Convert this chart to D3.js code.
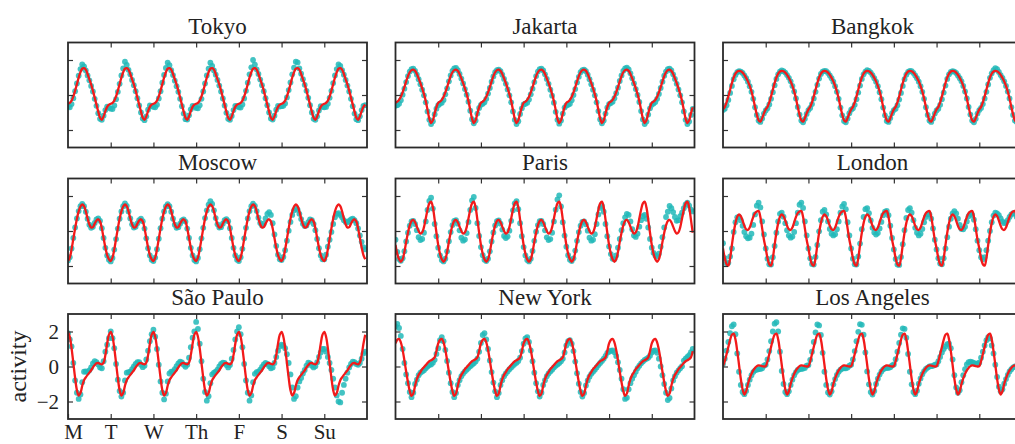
<!DOCTYPE html>
<html>
<head>
<meta charset="utf-8">
<script src="https://cdn.jsdelivr.net/npm/d3@7"></script>
<style>
  body { margin: 0; background: #fff; }
  svg { display: block; }
</style>
</head>
<body>
<svg id="chart" width="1015" height="444"></svg>
<script>
// ---- data -------------------------------------------------------------
const cities = ["Tokyo", "Jakarta", "Bangkok", "Moscow", "Paris", "London",
                "São Paulo", "New York", "Los Angeles"];
const dayLabels = ["M", "T", "W", "Th", "F", "S", "Su"];
const yTickValues = [-2, 0, 2];

// fitted daily activity model, hours 0..23 (same curve every day of the week)
const tokyoFit = [-0.50,-0.45,-0.32,-0.08,0.25,0.62,1.00,1.30,1.50,1.53,1.45,1.20,0.90,0.60,0.25,-0.15,-0.55,-0.95,-1.30,-1.42,-1.22,-0.92,-0.68,-0.55];
const jakartaFit = [-0.45,-0.38,-0.28,-0.10,0.15,0.45,0.78,1.08,1.30,1.42,1.45,1.38,1.20,0.95,0.68,0.38,0.05,-0.35,-0.85,-1.35,-1.60,-1.45,-1.05,-0.70];
const bangkokFit = [-0.82,-0.68,-0.42,-0.08,0.30,0.68,1.00,1.22,1.34,1.38,1.36,1.28,1.15,0.98,0.78,0.52,0.20,-0.20,-0.68,-1.12,-1.45,-1.52,-1.32,-1.05];
const moscowFit = [-1.72,-1.52,-1.05,-0.45,0.15,0.70,1.12,1.40,1.52,1.42,1.12,0.72,0.38,0.20,0.22,0.42,0.60,0.67,0.55,0.15,-0.40,-0.95,-1.38,-1.62];
const parisFit = [-0.80,-1.30,-1.62,-1.76,-1.62,-1.20,-0.62,-0.10,0.32,0.57,0.63,0.50,0.25,0.00,-0.15,-0.08,0.22,0.72,1.22,1.58,1.68,1.35,0.65,-0.10];
const londonFit = [-1.00,-1.55,-1.90,-1.98,-1.55,-0.80,-0.10,0.45,0.82,0.95,0.85,0.60,0.30,0.10,0.06,0.20,0.50,0.80,1.02,1.12,1.14,0.80,0.15,-0.50];
const saoPauloFit = [1.98,1.70,1.05,0.20,-0.65,-1.35,-1.66,-1.52,-1.10,-0.78,-0.62,-0.48,-0.35,-0.22,-0.05,0.08,0.18,0.20,0.15,0.12,0.22,0.65,1.30,1.82];
const newYorkFit = [1.32,1.52,1.58,1.38,0.95,0.35,-0.30,-0.90,-1.40,-1.68,-1.55,-1.10,-0.72,-0.48,-0.32,-0.15,-0.04,0.08,0.20,0.30,0.36,0.42,0.52,0.88];
const losAngelesFit = [0.02,0.30,0.70,1.12,1.52,1.82,1.88,1.55,0.88,0.10,-0.70,-1.30,-1.60,-1.42,-1.00,-0.68,-0.42,-0.22,-0.08,0.02,0.06,0.05,0.02,0.00];

// measured hourly activity, one row per day (Mon..Sun), 24 hours each
const tokyoDots = [
  [-0.66,-0.70,-0.52,-0.18,0.22,0.66,1.10,1.48,1.75,1.64,1.40,1.12,0.84,0.52,0.20,-0.22,-0.62,-1.04,-1.36,-1.42,-1.18,-0.86,-0.66,-0.72],
  [-0.78,-0.80,-0.60,-0.24,0.18,0.64,1.12,1.52,1.90,1.72,1.44,1.18,0.86,0.56,0.22,-0.18,-0.60,-1.00,-1.34,-1.44,-1.22,-0.84,-0.60,-0.62],
  [-0.68,-0.70,-0.55,-0.20,0.22,0.70,1.15,1.55,1.85,1.70,1.42,1.14,0.82,0.50,0.18,-0.22,-0.64,-1.06,-1.38,-1.40,-1.16,-0.82,-0.62,-0.66],
  [-0.74,-0.76,-0.58,-0.22,0.20,0.66,1.12,1.50,1.85,1.66,1.40,1.16,0.86,0.54,0.20,-0.20,-0.60,-1.02,-1.36,-1.42,-1.20,-0.86,-0.62,-0.64],
  [-0.70,-0.72,-0.54,-0.20,0.24,0.70,1.18,1.58,2.00,1.74,1.46,1.20,0.88,0.56,0.22,-0.18,-0.58,-1.00,-1.34,-1.40,-1.18,-0.84,-0.62,-0.66],
  [-0.64,-0.62,-0.48,-0.14,0.28,0.72,1.18,1.56,1.90,1.86,1.52,1.22,0.90,0.58,0.24,-0.16,-0.58,-1.00,-1.36,-1.42,-1.22,-0.88,-0.64,-0.68],
  [-0.70,-0.68,-0.50,-0.16,0.24,0.68,1.12,1.48,1.75,1.66,1.42,1.16,0.86,0.54,0.20,-0.22,-0.64,-1.06,-1.38,-1.44,-1.22,-0.86,-0.62,-0.58]
];
const jakartaDots = [
  [-0.62,-0.58,-0.50,-0.30,0.02,0.36,0.74,1.08,1.34,1.48,1.50,1.38,1.16,0.90,0.62,0.30,-0.02,-0.42,-0.94,-1.42,-1.66,-1.50,-1.10,-0.78],
  [-0.58,-0.50,-0.44,-0.28,0.04,0.38,0.78,1.12,1.38,1.52,1.55,1.42,1.20,0.94,0.66,0.34,0.02,-0.38,-0.90,-1.38,-1.62,-1.46,-1.06,-0.74],
  [-0.56,-0.50,-0.42,-0.22,0.08,0.40,0.76,1.06,1.30,1.42,1.45,1.36,1.16,0.92,0.64,0.32,-0.02,-0.42,-0.94,-1.42,-1.66,-1.50,-1.08,-0.76],
  [-0.54,-0.50,-0.44,-0.26,0.04,0.36,0.74,1.08,1.34,1.48,1.50,1.40,1.18,0.92,0.64,0.30,-0.04,-0.44,-0.96,-1.42,-1.64,-1.46,-1.06,-0.72],
  [-0.60,-0.56,-0.50,-0.30,0.00,0.34,0.72,1.04,1.30,1.42,1.45,1.36,1.16,0.90,0.62,0.30,-0.02,-0.42,-0.92,-1.40,-1.62,-1.46,-1.06,-0.72],
  [-0.52,-0.46,-0.38,-0.18,0.10,0.42,0.80,1.12,1.38,1.52,1.56,1.46,1.24,0.96,0.66,0.34,0.00,-0.40,-0.92,-1.40,-1.66,-1.52,-1.12,-0.76],
  [-0.56,-0.48,-0.40,-0.22,0.06,0.40,0.76,1.10,1.34,1.48,1.50,1.40,1.18,0.92,0.64,0.32,-0.02,-0.42,-0.94,-1.42,-1.66,-1.52,-1.14,-0.80]
];
const bangkokDots = [
  [-0.85,-0.78,-0.58,-0.28,0.12,0.52,0.90,1.15,1.30,1.36,1.34,1.26,1.12,0.96,0.76,0.50,0.18,-0.22,-0.70,-1.14,-1.46,-1.54,-1.34,-1.06],
  [-0.88,-0.76,-0.54,-0.22,0.16,0.56,0.92,1.18,1.34,1.40,1.36,1.28,1.14,0.98,0.78,0.52,0.20,-0.20,-0.68,-1.12,-1.46,-1.56,-1.36,-1.08],
  [-0.86,-0.74,-0.52,-0.20,0.18,0.58,0.94,1.20,1.34,1.38,1.36,1.26,1.12,0.96,0.76,0.50,0.18,-0.22,-0.72,-1.16,-1.48,-1.56,-1.34,-1.04],
  [-0.84,-0.76,-0.56,-0.24,0.14,0.54,0.92,1.18,1.34,1.42,1.38,1.28,1.14,0.96,0.76,0.50,0.16,-0.24,-0.72,-1.16,-1.48,-1.54,-1.32,-1.04],
  [-0.86,-0.78,-0.58,-0.26,0.12,0.52,0.90,1.16,1.32,1.38,1.36,1.26,1.12,0.96,0.76,0.50,0.18,-0.22,-0.70,-1.14,-1.46,-1.54,-1.34,-1.06],
  [-0.88,-0.78,-0.56,-0.24,0.14,0.54,0.92,1.18,1.32,1.36,1.34,1.26,1.12,0.96,0.78,0.52,0.20,-0.20,-0.68,-1.12,-1.46,-1.56,-1.36,-1.06],
  [-0.86,-0.74,-0.52,-0.20,0.18,0.60,0.98,1.24,1.42,1.54,1.48,1.32,1.14,0.98,0.78,0.52,0.20,-0.20,-0.70,-1.14,-1.46,-1.54,-1.32,-1.04]
];
const moscowDots = [
  [-1.68,-1.50,-1.00,-0.40,0.20,0.72,1.14,1.42,1.55,1.42,1.10,0.70,0.36,0.18,0.24,0.46,0.66,0.72,0.58,0.16,-0.40,-0.96,-1.40,-1.64],
  [-1.74,-1.54,-1.06,-0.46,0.14,0.70,1.12,1.42,1.58,1.44,1.12,0.72,0.38,0.20,0.24,0.44,0.62,0.70,0.56,0.14,-0.42,-0.98,-1.40,-1.64],
  [-1.72,-1.52,-1.04,-0.44,0.16,0.70,1.12,1.40,1.54,1.42,1.10,0.70,0.36,0.18,0.22,0.42,0.60,0.66,0.54,0.14,-0.40,-0.96,-1.40,-1.66],
  [-1.74,-1.54,-1.04,-0.42,0.18,0.74,1.18,1.50,1.70,1.55,1.18,0.74,0.38,0.20,0.22,0.42,0.62,0.68,0.56,0.16,-0.40,-0.96,-1.40,-1.64],
  [-1.72,-1.50,-1.02,-0.42,0.18,0.72,1.14,1.42,1.56,1.44,1.14,0.76,0.46,0.32,0.42,0.72,0.98,1.08,0.92,0.45,-0.20,-0.85,-1.35,-1.62],
  [-1.66,-1.48,-1.10,-0.55,0.02,0.52,0.92,1.18,1.30,1.22,0.98,0.68,0.42,0.28,0.32,0.50,0.66,0.62,0.40,0.05,-0.45,-0.98,-1.40,-1.62],
  [-1.62,-1.35,-0.90,-0.50,-0.05,0.40,0.78,0.98,1.02,0.92,0.78,0.62,0.52,0.50,0.58,0.66,0.70,0.62,0.45,0.15,-0.25,-0.62,-0.92,-1.05]
];
const parisDots = [
  [-0.50,-1.20,-1.60,-1.70,-1.55,-1.15,-0.60,-0.10,0.30,0.55,0.58,0.40,0.05,-0.35,-0.52,-0.45,-0.10,0.55,1.20,1.72,1.90,1.28,0.40,-0.30],
  [-0.95,-1.40,-1.66,-1.74,-1.58,-1.16,-0.58,-0.06,0.34,0.58,0.62,0.42,0.04,-0.38,-0.55,-0.48,-0.12,0.52,1.20,1.75,1.95,1.32,0.45,-0.28],
  [-0.92,-1.38,-1.64,-1.72,-1.58,-1.16,-0.60,-0.08,0.32,0.56,0.60,0.42,0.08,-0.28,-0.40,-0.32,0.02,0.58,1.18,1.58,1.70,1.25,0.45,-0.30],
  [-0.92,-1.40,-1.66,-1.74,-1.58,-1.14,-0.56,-0.04,0.34,0.56,0.58,0.40,0.04,-0.36,-0.52,-0.46,-0.10,0.55,1.22,1.80,2.04,1.40,0.50,-0.26],
  [-0.90,-1.38,-1.64,-1.72,-1.56,-1.12,-0.56,-0.06,0.30,0.52,0.55,0.38,0.02,-0.38,-0.55,-0.50,-0.18,0.40,0.95,1.32,1.43,1.10,0.40,-0.30],
  [-0.88,-1.32,-1.58,-1.62,-1.40,-0.95,-0.45,0.05,0.45,0.78,0.98,0.92,0.55,0.10,-0.25,-0.34,-0.15,0.25,0.62,0.85,0.92,0.70,0.20,-0.45],
  [-0.95,-1.25,-1.40,-1.45,-1.30,-0.90,-0.35,0.20,0.80,1.10,1.43,1.30,1.08,0.80,0.58,0.62,0.85,1.05,1.30,1.52,1.62,1.45,1.22,1.12]
];
const londonDots = [
  [-0.70,-1.55,-1.85,-1.82,-1.45,-1.00,-0.05,0.50,0.78,0.80,0.62,0.30,-0.05,-0.30,-0.42,-0.38,-0.15,0.35,0.95,1.45,1.62,1.35,0.55,-0.20],
  [-1.00,-1.58,-1.90,-1.92,-1.50,-0.85,-0.10,0.55,0.98,1.05,0.82,0.45,0.05,-0.25,-0.38,-0.32,-0.05,0.45,1.05,1.50,1.62,1.32,0.55,-0.25],
  [-1.00,-1.56,-1.88,-1.92,-1.48,-0.80,-0.02,0.62,1.10,1.20,0.95,0.55,0.12,-0.15,-0.25,-0.18,0.10,0.55,1.05,1.40,1.55,1.25,0.50,-0.25],
  [-1.00,-1.58,-1.90,-1.92,-1.45,-0.72,0.10,0.80,1.25,1.30,1.02,0.60,0.18,-0.08,-0.20,-0.12,0.15,0.52,0.90,1.10,1.15,0.90,0.30,-0.40],
  [-1.05,-1.60,-1.92,-1.94,-1.48,-0.75,0.05,0.75,1.20,1.30,1.05,0.62,0.18,-0.10,-0.25,-0.15,0.12,0.50,0.80,0.95,0.95,0.70,0.15,-0.50],
  [-1.05,-1.55,-1.85,-1.90,-1.55,-1.00,-0.35,0.25,0.70,1.00,1.14,1.00,0.70,0.35,0.12,0.10,0.25,0.55,0.85,0.98,0.92,0.65,0.10,-0.55],
  [-1.10,-1.50,-1.62,-1.50,-1.10,-0.55,0.00,0.50,0.88,1.05,1.00,0.90,0.72,0.55,0.45,0.48,0.62,0.80,0.95,1.02,1.00,0.80,0.40,-0.10]
];
const saoPauloDots = [
  [1.90,1.55,1.15,0.20,-0.80,-1.50,-1.85,-1.60,-0.90,-0.30,-0.28,-0.32,-0.22,-0.05,0.18,0.30,0.25,0.12,-0.05,-0.10,0.30,0.85,1.25,1.62],
  [2.00,1.62,1.05,0.15,-0.75,-1.40,-1.72,-1.50,-0.80,-0.35,-0.32,-0.30,-0.15,0.00,0.15,0.25,0.25,0.10,-0.04,0.05,0.40,0.90,1.45,1.85],
  [2.10,1.70,1.00,0.10,-0.85,-1.50,-1.88,-1.55,-0.85,-0.40,-0.30,-0.28,-0.15,0.02,0.18,0.28,0.24,0.10,-0.02,0.10,0.50,1.10,1.65,2.00],
  [2.55,2.15,1.30,0.30,-0.70,-1.45,-1.95,-1.70,-0.95,-0.45,-0.35,-0.30,-0.18,0.00,0.15,0.22,0.20,0.08,-0.05,0.08,0.45,0.95,1.55,2.00],
  [2.25,1.85,1.10,0.15,-0.80,-1.50,-1.95,-1.65,-0.90,-0.42,-0.32,-0.30,-0.18,-0.02,0.12,0.20,0.15,0.02,-0.10,-0.05,0.20,0.55,0.90,1.15],
  [1.25,1.20,1.05,0.70,0.20,-0.45,-1.20,-1.85,-1.70,-1.20,-0.85,-0.65,-0.40,-0.20,0.05,0.22,0.18,0.05,-0.05,0.02,0.25,0.55,0.80,1.00],
  [1.00,0.85,0.55,0.20,-0.20,-0.70,-1.20,-1.65,-2.00,-2.05,-1.50,-1.05,-0.70,-0.35,-0.05,0.15,0.28,0.25,0.15,0.10,0.20,0.45,0.75,0.85]
];
const newYorkDots = [
  [2.30,2.44,2.20,1.75,1.00,0.20,-0.45,-0.95,-1.45,-1.75,-1.50,-1.00,-0.75,-0.50,-0.35,-0.28,-0.22,-0.10,0.00,0.08,0.12,0.22,0.38,0.72],
  [1.05,1.50,1.68,1.45,0.95,0.32,-0.35,-0.95,-1.45,-1.75,-1.52,-1.05,-0.78,-0.55,-0.40,-0.28,-0.18,-0.08,0.02,0.10,0.18,0.28,0.45,0.85],
  [1.35,1.80,1.90,1.55,1.00,0.35,-0.32,-0.92,-1.42,-1.75,-1.52,-1.05,-0.78,-0.55,-0.40,-0.28,-0.15,-0.05,0.05,0.15,0.22,0.32,0.50,0.88],
  [1.30,1.60,1.68,1.40,0.92,0.30,-0.35,-0.95,-1.42,-1.72,-1.50,-1.05,-0.78,-0.55,-0.40,-0.28,-0.18,-0.06,0.04,0.12,0.20,0.30,0.45,0.80],
  [1.20,1.45,1.50,1.30,0.88,0.28,-0.38,-0.98,-1.45,-1.72,-1.52,-1.08,-0.80,-0.58,-0.42,-0.30,-0.18,-0.05,0.08,0.20,0.32,0.45,0.60,0.78],
  [0.85,0.90,0.92,0.82,0.60,0.25,-0.20,-0.70,-1.30,-1.85,-1.78,-1.30,-0.95,-0.70,-0.50,-0.30,-0.10,0.05,0.18,0.28,0.38,0.44,0.50,0.62],
  [0.80,0.90,0.92,0.78,0.45,0.00,-0.50,-1.00,-1.50,-1.92,-1.80,-1.25,-0.80,-0.55,-0.35,-0.22,-0.10,0.02,0.34,0.45,0.55,0.65,0.82,1.00]
];
const losAngelesDots = [
  [0.15,0.45,0.90,1.40,1.90,2.30,2.40,1.85,0.75,-0.30,-1.05,-1.45,-1.58,-1.40,-1.05,-0.75,-0.50,-0.32,-0.22,-0.18,-0.15,-0.14,-0.10,0.05],
  [0.10,0.40,0.88,1.45,2.00,2.45,2.53,2.00,0.85,-0.25,-1.00,-1.45,-1.58,-1.42,-1.05,-0.75,-0.50,-0.32,-0.20,-0.16,-0.14,-0.12,-0.08,0.05],
  [0.08,0.38,0.85,1.40,1.95,2.40,2.35,1.80,0.78,-0.30,-1.05,-1.48,-1.60,-1.42,-1.02,-0.72,-0.48,-0.30,-0.18,-0.12,-0.10,-0.10,-0.06,0.05],
  [0.10,0.40,0.88,1.45,1.98,2.42,2.38,1.82,0.80,-0.28,-1.02,-1.46,-1.60,-1.40,-1.00,-0.70,-0.46,-0.28,-0.16,-0.10,-0.08,-0.08,-0.04,0.06],
  [0.12,0.42,0.85,1.35,1.82,2.18,2.15,1.65,0.72,-0.30,-1.02,-1.45,-1.58,-1.38,-0.98,-0.68,-0.44,-0.26,-0.14,-0.06,0.00,0.02,0.04,0.10],
  [0.12,0.30,0.55,0.80,1.00,1.15,1.28,1.30,1.05,0.40,-0.50,-1.20,-1.50,-1.35,-0.90,-0.50,-0.15,0.12,0.25,0.28,0.25,0.20,0.15,0.18],
  [0.22,0.50,0.85,1.20,1.50,1.68,1.60,1.20,0.75,0.10,-0.60,-1.15,-1.42,-1.30,-0.98,-0.72,-0.48,-0.28,-0.15,-0.05,0.00,0.02,0.02,0.05]
];

// ---- panel table ------------------------------------------------------
const fitsByCity = [tokyoFit, jakartaFit, bangkokFit, moscowFit, parisFit, londonFit,
                    saoPauloFit, newYorkFit, losAngelesFit];
const dotsByCity = [tokyoDots, jakartaDots, bangkokDots, moscowDots, parisDots, londonDots,
                    saoPauloDots, newYorkDots, losAngelesDots];
const panels = cities.map((name, i) => ({
  name,
  fit: d3.range(7 * 24).map(t => ({ t, v: fitsByCity[i][t % 24] })),
  dots: dotsByCity[i].flatMap((day, d) => day.map((v, h) => ({ t: d * 24 + h, v })))
}));

// ---- layout -----------------------------------------------------------
const W = 299, H = 105;
const colX = [68, 395.5, 723];
const rowY = [42.5, 178.5, 314];
const SERIF = "'Liberation Serif', 'DejaVu Serif', 'Times New Roman', serif";

const x = d3.scaleLinear().domain([0, 168]).range([0, W]);
const y = d3.scaleLinear().domain([-3, 3]).range([H, 0]);

const svg = d3.select("#chart").attr("font-family", SERIF);
const line = d3.line().x(d => x(d.t)).y(d => y(d.v)).curve(d3.curveCatmullRom.alpha(0.5));

const dayTicks = d3.range(1, 7).map(d => d * 24);

panels.forEach((p, i) => {
  const col = i % 3, row = Math.floor(i / 3);
  const g = svg.append("g").attr("transform", `translate(${colX[col]},${rowY[row]})`);

  g.append("clipPath").attr("id", `clip${i}`)
    .append("rect").attr("width", W).attr("height", H);

  const plot = g.append("g").attr("clip-path", `url(#clip${i})`);
  plot.selectAll("circle").data(p.dots).join("circle")
    .attr("cx", d => x(d.t)).attr("cy", d => y(d.v)).attr("r", 2.9)
    .attr("fill", "#22b8b8").attr("fill-opacity", 0.85);
  plot.append("path").datum(p.fit).attr("d", line)
    .attr("fill", "none").attr("stroke", "#f21a1a").attr("stroke-width", 2.3);

  const isLabelled = i === 6;

  // inward ticks on all four sides
  const bottom = d3.axisBottom(x).tickSizeInner(-5).tickSizeOuter(0).tickPadding(5);
  if (isLabelled) {
    bottom.tickValues(d3.range(0, 7).map(d => d * 24)).tickFormat((t, k) => dayLabels[k]);
  } else {
    bottom.tickValues(dayTicks).tickFormat("");
  }
  const top = d3.axisTop(x).tickValues(dayTicks).tickSizeInner(-5).tickSizeOuter(0).tickFormat("");
  const left = d3.axisLeft(y).tickValues(yTickValues).tickSizeInner(-5).tickSizeOuter(0).tickPadding(9)
    .tickFormat(isLabelled ? d3.format("d") : "");
  const right = d3.axisRight(y).tickValues(yTickValues).tickSizeInner(-5).tickSizeOuter(0).tickFormat("");

  const axes = [
    g.append("g").attr("transform", `translate(0,${H})`).call(bottom),
    g.append("g").call(top),
    g.append("g").call(left),
    g.append("g").attr("transform", `translate(${W},0)`).call(right)
  ];
  axes.forEach(a => {
    a.attr("font-family", SERIF).attr("font-size", 21);
    a.select(".domain").remove();
    a.selectAll(".tick line").attr("stroke", "#333").attr("stroke-width", 1.2);
    a.selectAll(".tick text").attr("font-family", SERIF).attr("font-size", 21).attr("fill", "#222");
  });
  if (isLabelled) {
    // the Monday label sits just inside the left frame edge
    axes[0].selectAll(".tick text").filter((t, k) => k === 0).attr("dx", 5);
  }

  g.append("rect").attr("width", W).attr("height", H)
    .attr("fill", "none").attr("stroke", "#2a2a2a").attr("stroke-width", 1.8);

  g.append("text").attr("x", W / 2).attr("y", -9)
    .attr("text-anchor", "middle").attr("font-family", SERIF).attr("font-size", 23)
    .attr("fill", "#222").text(p.name);

  if (isLabelled) {
    g.append("text")
      .attr("transform", `translate(${-42},${H / 2}) rotate(-90)`)
      .attr("text-anchor", "middle").attr("font-family", SERIF).attr("font-size", 24)
      .attr("fill", "#222").text("activity");
  }
});
</script>
</body>
</html>
